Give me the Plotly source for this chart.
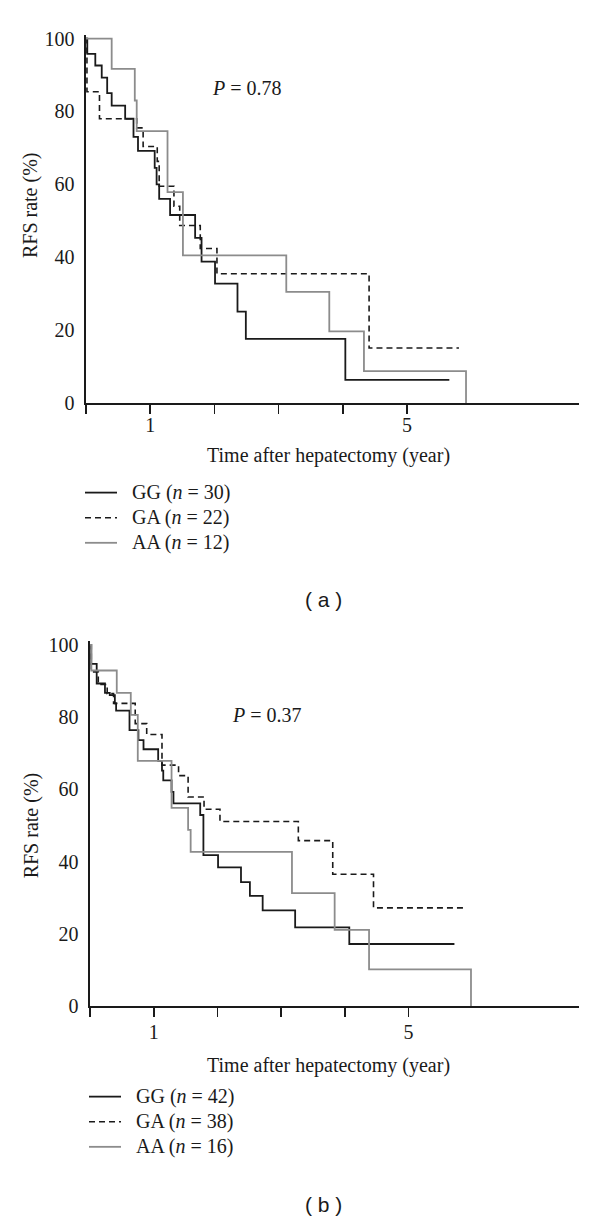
import plotly.graph_objects as go

# ---------------- data ----------------
# Panel (a)
gg_a_t = [0, 0.02, 0.145, 0.245, 0.33, 0.40, 0.61, 0.74, 0.81, 1.07, 1.10, 1.14, 1.31, 1.70, 1.80, 2.01, 2.36, 2.49, 4.04, 5.66]
gg_a_v = [100, 95.8, 92.6, 89.3, 85, 81.6, 78, 73, 69.2, 64.5, 60, 56, 51.6, 45.3, 38.8, 32.8, 25.1, 17.6, 6.4, 6.4]
ga_a_t = [0, 0.015, 0.21, 0.79, 0.89, 1.11, 1.14, 1.37, 1.46, 1.78, 2.04, 4.41, 5.81]
ga_a_v = [100, 85.4, 78, 75.5, 70.4, 66.3, 59.5, 54, 48.7, 42.4, 35.5, 15.1, 15.1]
aa_a_t = [0, 0.40, 0.76, 0.79, 1.27, 1.51, 3.12, 3.79, 4.33, 5.92]
aa_a_v = [100, 91.7, 83, 74.6, 57.9, 40.5, 30.5, 19.7, 8.8, 0]

# Panel (b)
gg_b_t = [0, 0.02, 0.105, 0.235, 0.31, 0.39, 0.41, 0.62, 0.76, 0.84, 1.07, 1.13, 1.15, 1.28, 1.31, 1.73, 1.78, 2.01, 2.37, 2.51, 2.71, 3.22, 4.07, 5.72]
gg_b_v = [100, 94.7, 89.3, 86.7, 86.1, 83.8, 81.8, 76.4, 73.6, 71.1, 67.9, 65.2, 62.5, 59.3, 56.1, 52.9, 41.8, 38.4, 34.3, 30.5, 26.5, 21.8, 17.2, 17.2]
ga_b_t = [0, 0.02, 0.13, 0.27, 0.37, 0.71, 0.89, 1.13, 1.39, 1.54, 1.79, 2.04, 3.27, 3.81, 4.45, 5.86]
ga_b_v = [100, 92.5, 89, 86.5, 83.8, 78.2, 75.2, 66.7, 63.8, 57.9, 54.5, 51.1, 45.8, 36.5, 27.2, 27.2]
aa_b_t = [0, 0.02, 0.42, 0.64, 0.75, 1.28, 1.54, 1.58, 3.17, 3.84, 4.38, 5.98]
aa_b_v = [100, 92.9, 86.7, 80.6, 67.9, 54.9, 48.8, 42.7, 31.3, 21.1, 10.2, 0]

groups = ["GG", "GA", "AA"]
n_a = [30, 22, 12]
n_b = [42, 38, 16]
p_a = "<i>P</i> = 0.78"
p_b = "<i>P</i> = 0.37"

x_tickvals = [0, 1, 2, 3, 4, 5]
x_ticktext = ["", "1", "", "", "", "5"]
y_tickvals = [0, 20, 40, 60, 80, 100]

# ---------------- styling ----------------
W, H = 600, 1230
SERIF = "Liberation Serif, Times New Roman, serif"
SANS = "Liberation Sans, Arial, sans-serif"
FS = 20
BLACK = "#1a1a1a"
GRAY = "rgb(140,140,140)"
styles = [dict(color=BLACK, width=1.8, dash="solid"),
          dict(color=BLACK, width=1.6, dash="6px,4px"),
          dict(color=GRAY, width=1.8, dash="solid")]

def px(x):
    return x / W

def py(y):
    return 1 - y / H

def leg_label(g, n):
    return "<span style='font-size:%dpx'>\u2002%s (<i>n</i> = %d)</span>" % (FS, g, n)

fig = go.Figure()

series_a = [(gg_a_t, gg_a_v), (ga_a_t, ga_a_v), (aa_a_t, aa_a_v)]
series_b = [(gg_b_t, gg_b_v), (ga_b_t, ga_b_v), (aa_b_t, aa_b_v)]

for i, (t, v) in enumerate(series_a):
    fig.add_trace(go.Scatter(x=t, y=v, mode="lines", line_shape="hv", line=styles[i],
                             name=leg_label(groups[i], n_a[i]), xaxis="x", yaxis="y",
                             legend="legend", legendgroup="a%d" % i))
for i, (t, v) in enumerate(series_b):
    fig.add_trace(go.Scatter(x=t, y=v, mode="lines", line_shape="hv", line=styles[i],
                             name=leg_label(groups[i], n_b[i]), xaxis="x2", yaxis="y2",
                             legend="legend2", legendgroup="b%d" % i))

axis_common = dict(showgrid=False, zeroline=False, showline=True, linecolor=BLACK, linewidth=1.6,
                   tickfont=dict(family=SERIF, size=FS, color=BLACK))
xcommon = dict(axis_common, range=[0, 7.68], tickmode="array", tickvals=x_tickvals,
               ticktext=x_ticktext, ticks="outside", ticklen=9, tickwidth=1.6, tickcolor=BLACK)
ycommon = dict(axis_common, range=[0, 101], tickmode="array", tickvals=y_tickvals, ticks="",
               ticklabelstandoff=6)

legend_common = dict(font=dict(family=SERIF, size=17, color=BLACK), bgcolor="rgba(0,0,0,0)",
                     tracegroupgap=0, itemwidth=32, xanchor="left", yanchor="top")

fig.update_layout(
    width=W, height=H,
    margin=dict(l=0, r=0, t=0, b=0),
    paper_bgcolor="white", plot_bgcolor="white",
    showlegend=True,
    xaxis=dict(xcommon, domain=[px(86), px(579)], anchor="y", ticklabelstandoff=-6),
    yaxis=dict(ycommon, domain=[py(402), py(402 - 3.7 * 101)], anchor="x"),
    xaxis2=dict(xcommon, domain=[px(90), px(579.3)], anchor="y2", ticklabelstandoff=-2),
    yaxis2=dict(ycommon, domain=[py(1014), py(1014 - 3.667 * 101)], anchor="x2"),
    legend=dict(legend_common, x=px(80), y=py(475)),
    legend2=dict(legend_common, x=px(84), y=py(1088)),
)

def ann(text, x, y, size=FS, family=SERIF, angle=0):
    return dict(text=text, x=px(x), y=py(y), xref="paper", yref="paper", textangle=angle,
                xanchor="center", yanchor="middle", showarrow=False,
                font=dict(family=family, size=size, color=BLACK))

annotations = [
    ann("RFS rate (%)", 30, 201, angle=-90),
    ann("RFS rate (%)", 31.5, 831, angle=-90),
    ann("Time after hepatectomy (year)", 328, 455),
    ann("Time after hepatectomy (year)", 328, 1074),
    ann(p_a, 246.5, 82.7),
    ann(p_b, 266.7, 719),
    ann("( a )", 323.3, 601.7, size=21, family=SANS),
    ann("( b )", 323.3, 1215, size=21, family=SANS),
]
fig.update_layout(annotations=annotations)

fig.write_html("out.html", config={"displayModeBar": False, "staticPlot": True})

# remove the browser's default page margin so the figure fills the window exactly
with open("out.html", "r", encoding="utf-8") as f:
    html = f.read()
html = html.replace("<head>", "<head><style>html,body{margin:0;padding:0;overflow:hidden;}</style>", 1)
with open("out.html", "w", encoding="utf-8") as f:
    f.write(html)
